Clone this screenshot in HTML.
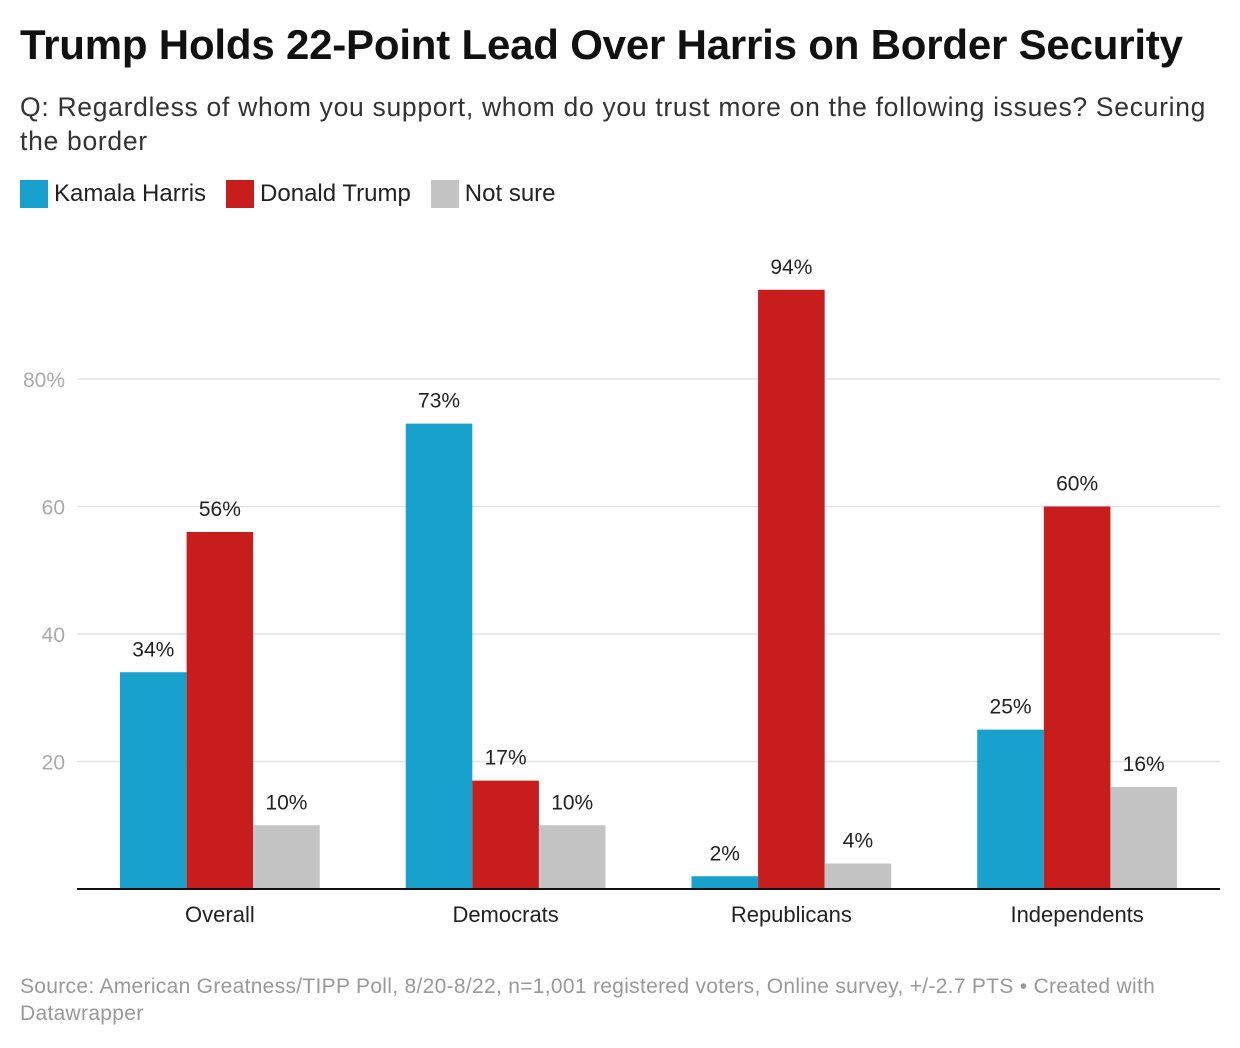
<!DOCTYPE html>
<html><head><meta charset="utf-8"><style>
body{margin:0;background:#fff;width:1240px;height:1048px;overflow:hidden;font-family:"Liberation Sans",sans-serif;position:relative}
#title{position:absolute;left:20px;top:21px;font-size:42px;font-weight:bold;color:#111;letter-spacing:-0.2px;white-space:nowrap}
#sub{position:absolute;left:20px;top:90px;font-size:26.5px;line-height:34px;color:#333;width:1230px;letter-spacing:0.7px;white-space:nowrap}
#legend{position:absolute;left:20px;top:180px;font-size:24px;color:#222;display:flex;gap:0}
.li{display:flex;align-items:center;margin-right:20px}
.sw{width:28px;height:28px;margin-right:6px}
#foot{position:absolute;left:20px;top:973px;font-size:21px;line-height:27px;color:#999;width:1150px;letter-spacing:0.3px;white-space:nowrap}
svg{position:absolute;left:0;top:0}
</style></head><body>
<div id="title">Trump Holds 22-Point Lead Over Harris on Border Security</div>
<div id="sub">Q: Regardless of whom you support, whom do you trust more on the following issues? Securing<br>the border</div>
<div id="legend">
<div class="li"><div class="sw" style="background:#18a1cd"></div>Kamala Harris</div>
<div class="li"><div class="sw" style="background:#c71e1d"></div>Donald Trump</div>
<div class="li"><div class="sw" style="background:#c4c4c4"></div>Not sure</div>
</div>
<svg id="chart" width="1240" height="1048"></svg>
<div id="foot">Source: American Greatness/TIPP Poll, 8/20-8/22, n=1,001 registered voters, Online survey, +/-2.7 PTS • Created with<br>Datawrapper</div>
<script>
const categories=["Overall","Democrats","Republicans","Independents"];
const harris=[34,73,2,25];
const trump=[56,17,94,60];
const notSure=[10,10,4,16];
const yTicks=[20,40,60,80];
const seriesColors=["#18a1cd","#c71e1d","#c4c4c4"];
const series=[harris,trump,notSure];
const ns="http://www.w3.org/2000/svg";
const svg=document.getElementById('chart');
const x0=77,x1=1220,y0=889,pxPer=6.375;
const y=v=>y0-v*pxPer;
const band=(x1-x0)/categories.length,pad=43,bw=(band-2*pad)/3;
function mk(t,a){const e=document.createElementNS(ns,t);for(const k in a)e.setAttribute(k,a[k]);svg.appendChild(e);return e;}
yTicks.forEach(t=>{
 const l=mk('line',{x1:x0,x2:x1,y1:y(t),y2:y(t),stroke:'#e3e3e3','stroke-width':1.5});
 
 
 const tx=mk('text',{x:65,y:y(t)+8,'text-anchor':'end','font-size':21,fill:'#aaa'});
 tx.textContent=t===80?'80%':t;
 
 
});
categories.forEach((c,i)=>{
 const gx=x0+i*band;
 series.forEach((s,j)=>{
  const bx=gx+pad+j*bw,v=s[i];
  const r=mk('rect',{x:bx,y:y(v),width:bw,height:v*pxPer,fill:seriesColors[j]});
  
  
  const t=mk('text',{x:bx+bw/2,y:y(v)-16,'text-anchor':'middle','font-size':21,fill:'#222'});
  t.textContent=v+'%';
  
  
 });
 const ct=mk('text',{x:gx+band/2,y:922,'text-anchor':'middle','font-size':22,fill:'#222'});
 ct.textContent=c;
 
 
});
const ax=mk('line',{x1:x0,x2:x1,y1:y0,y2:y0,stroke:'#111','stroke-width':2});


</script>
</body></html>
